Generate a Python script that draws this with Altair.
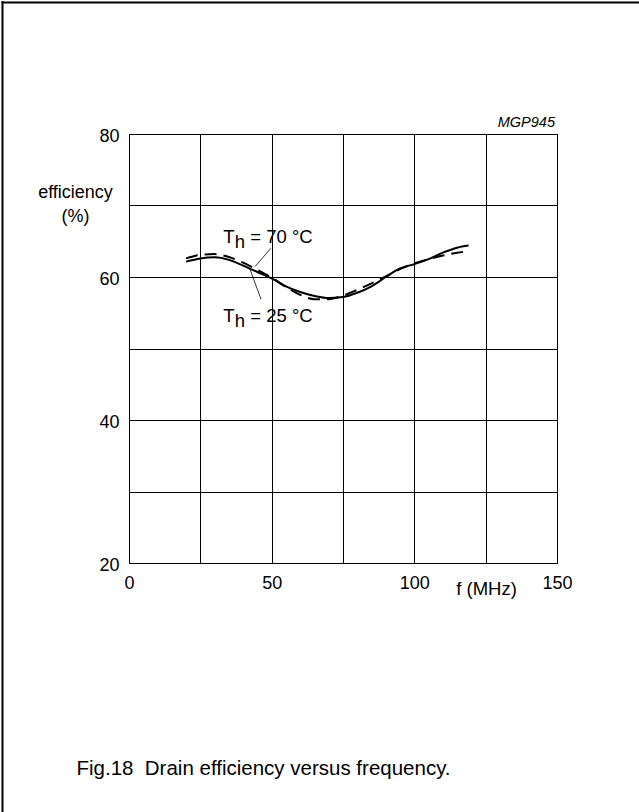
import altair as alt
import pandas as pd

FONT = "Liberation Sans"

# Frequency (MHz)
freq = [20, 25, 30, 35, 40, 45, 50, 55, 60, 65, 70, 75, 80, 85, 90, 95, 100, 105, 110, 115, 119]
# Efficiency (%) at Th = 25 degC (solid)
eff_25 = [62.15, 62.6, 62.75, 62.4, 61.6, 60.7, 59.8, 58.7, 57.9, 57.35, 57.05, 57.2, 57.8, 58.7,
          60.0, 61.2, 61.8, 62.5, 63.4, 64.1, 64.4]
# Efficiency (%) at Th = 70 degC (dashed)
eff_70 = [62.6, 63.1, 63.2, 62.8, 62.0, 61.0, 59.9, 58.6, 57.5, 56.9, 56.9, 57.4, 58.2, 59.1,
          60.1, 61.1, 61.9, 62.5, 63.0, 63.4, 63.6]

x_ticks = [0, 25, 50, 75, 100, 125, 150]
y_ticks = [20, 30, 40, 50, 60, 70, 80]

# annotation anchors (data coordinates)
label_text = ["= 70 \u00b0C", "= 25 \u00b0C"]
label_f = [33.05, 33.05]
label_eff = [64.8, 53.66]
# leader lines
lead_f1 = [49.67, 42.41]
lead_e1 = [64.01, 61.08]
lead_f2 = [44.16, 46.27]
lead_e2 = [61.44, 56.88]

caption = "Fig.18\u00a0 Drain efficiency versus frequency."
code = "MGP945"

df25 = pd.DataFrame({"f": freq, "eff": eff_25})
df70 = pd.DataFrame({"f": freq, "eff": eff_70})
lab = pd.DataFrame({"f": label_f, "eff": label_eff, "txt": label_text})
lead = pd.DataFrame({"f1": lead_f1, "e1": lead_e1, "f2": lead_f2, "e2": lead_e2})

xscale = alt.Scale(domain=[0, 150], nice=False, zero=False)
yscale = alt.Scale(domain=[20, 80], nice=False, zero=False)

xaxis = alt.Axis(
    values=x_ticks,
    labelExpr="datum.value % 50 === 0 ? datum.label : ''",
    grid=True, gridColor="black", gridWidth=1, gridOpacity=1,
    domain=False, ticks=False, labelFlush=False, labelOverlap=False,
    labelFont=FONT, labelFontSize=18, labelColor="black", labelPadding=11,
    title="f (MHz)", titleFont=FONT, titleFontSize=18.5, titleFontWeight="normal",
    titleColor="black", titleX=357, titleY=31, titleAlign="center",
    titleBaseline="alphabetic", titleAngle=0,
)
yaxis = alt.Axis(
    values=y_ticks,
    labelExpr="datum.value % 20 === 0 ? datum.label : ''",
    grid=True, gridColor="black", gridWidth=1, gridOpacity=1,
    domain=False, ticks=False, labelFlush=False, labelOverlap=False,
    labelFont=FONT, labelFontSize=18, labelColor="black", labelPadding=10, labelOffset=2,
    title=["efficiency", "(%)"], titleFont=FONT, titleFontSize=18, titleFontWeight="normal",
    titleColor="black", titleX=-54, titleY=63, titleAlign="center",
    titleBaseline="alphabetic", titleAngle=0, titleLineHeight=24,
)

X = alt.X("f:Q", scale=xscale, axis=xaxis)
Y = alt.Y("eff:Q", scale=yscale, axis=yaxis)

solid = alt.Chart(df25).mark_line(color="black", strokeWidth=2, interpolate="monotone").encode(x=X, y=Y)
dashed = alt.Chart(df70).mark_line(color="black", strokeWidth=2, strokeDash=[12, 7],
                                    interpolate="monotone").encode(x="f:Q", y="eff:Q")

tx = dict(font=FONT, fontSize=18.5, color="black", align="left", baseline="alphabetic")
t_T = alt.Chart(lab).mark_text(text="T", **tx).encode(x="f:Q", y="eff:Q")
t_h = alt.Chart(lab).mark_text(text="h", dx=11.5, dy=5, **tx).encode(x="f:Q", y="eff:Q")
t_rest = alt.Chart(lab).mark_text(dx=27, **tx).encode(x="f:Q", y="eff:Q", text="txt:N")

leaders = alt.Chart(lead).mark_rule(color="black", strokeWidth=0.8).encode(
    x="f1:Q", y="e1:Q", x2="f2:Q", y2="e2:Q")

code_df = pd.DataFrame({"f": [150], "eff": [80], "t": [code]})
code_txt = alt.Chart(code_df).mark_text(font=FONT, fontSize=14.5, fontStyle="italic", color="black",
                                        align="right", baseline="alphabetic", dx=-2, dy=-7).encode(
    x="f:Q", y="eff:Q", text="t:N")

cap_df = pd.DataFrame({"t": [caption]})
cap = alt.Chart(cap_df).mark_text(font=FONT, fontSize=20.5, color="black", align="center",
                                  baseline="alphabetic").encode(
    x=alt.value(134.5), y=alt.value(641), text="t:N")

frame_df = pd.DataFrame({"k": [0]})
frame_left = alt.Chart(frame_df).mark_rule(color="black", strokeWidth=2).encode(
    x=alt.value(-126.5), y=alt.value(-133), y2=alt.value(678))
frame_top = alt.Chart(frame_df).mark_rule(color="black", strokeWidth=2).encode(
    x=alt.value(-127.5), x2=alt.value(510), y=alt.value(-131.5))

chart = alt.layer(
    solid, dashed, leaders, t_T, t_h, t_rest, code_txt, cap, frame_left, frame_top
).properties(
    width=428, height=429,
    padding={"left": 129, "top": 134, "right": 82, "bottom": 249},
    autosize=alt.AutoSizeParams(type="none"),
    background="white",
).configure_view(stroke="black", strokeWidth=1)

chart.save("out.html", embed_options={"renderer": "svg", "actions": False})
